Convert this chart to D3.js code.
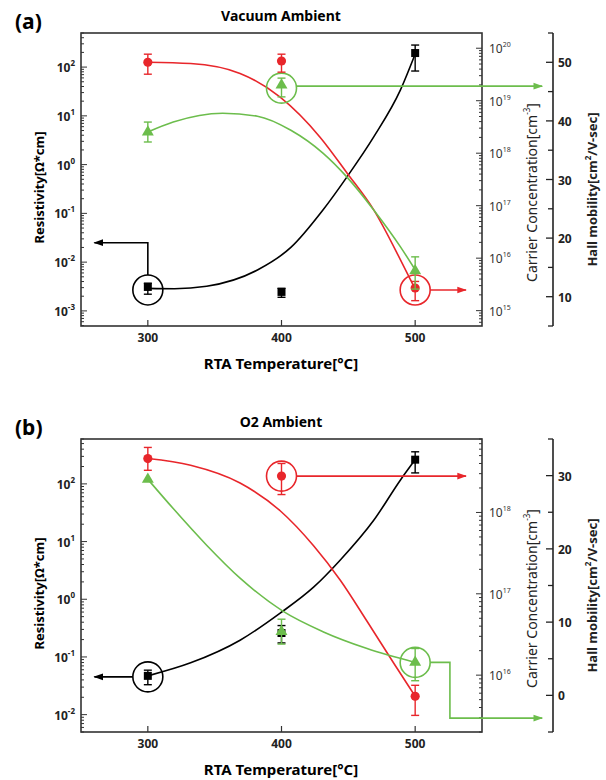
<!DOCTYPE html>
<html>
<head>
<meta charset="utf-8">
<script src="https://cdn.jsdelivr.net/npm/d3@7"></script>
<style>
body{margin:0;background:#fff}
text{font-family:"Noto Sans",sans-serif}
</style>
</head>
<body>
<svg id="chart"></svg>
<script>
var temps = [300, 400, 500]

// (a) vacuum ambient
var vacRes = [3.1e-3, 2.45e-3, 194]
var vacResErr = [[2.2e-3, 3.7e-3], [1.9e-3, 2.9e-3], [83, 283]]
var vacCar = [5.4e19, 5.7e19, 2.7e15]
var vacCarErr = [[3.2e19, 7.7e19], [3.5e19, 7.7e19], [1.55e15, 3.6e15]]
var vacMob = [38.1, 46.1, 14.4]
var vacMobErr = [[36.4, 39.8], [44.1, 47.3], [11.3, 16.8]]
// fitted curves
var vacResFitT = [300, 320, 344, 382, 407, 431, 449, 469, 489, 500]
var vacResFit = [2.9e-3, 2.85e-3, 3.2e-3, 6.9e-3, 0.020, 0.117, 0.56, 3.7, 34, 185]
var vacCarFitT = [300, 332, 369, 399, 429, 449, 469, 489, 499]
var vacCarFit = [5.4e19, 5.1e19, 3.3e19, 1.17e19, 2.0e18, 4.2e17, 8.3e16, 9.3e15, 2.9e15]
var vacMobFitT = [300, 319, 356, 382, 407, 431, 449, 469, 489, 500]
var vacMobFit = [38.1, 39.8, 41.3, 40.8, 38.4, 34.5, 30.4, 24.8, 18.5, 14.6]

// (b) O2 ambient
var o2Res = [0.047, 0.26, 263]
var o2ResErr = [[0.033, 0.059], [0.175, 0.35], [155, 360]]
var o2Car = [4.6e18, 2.8e18, 5.5e15]
var o2CarErr = [[3.3e18, 6.3e18], [1.66e18, 4.0e18], [3.2e15, 7.5e15]]
var o2Mob = [29.5, 8.7, 4.5]
var o2MobErr = [[29.5, 29.5], [7.0, 10.4], [2.0, 6.4]]
var o2ResFitT = [300, 332, 369, 399, 424, 444, 469, 489, 500]
var o2ResFit = [0.047, 0.079, 0.195, 0.575, 1.62, 4.8, 23.4, 117, 263]
var o2CarFitT = [300, 332, 369, 399, 424, 444, 464, 484, 500]
var o2CarFit = [4.6e18, 3.8e18, 2.3e18, 1.05e18, 3.9e17, 1.47e17, 4.6e16, 1.4e16, 5.5e15]
var o2MobFitT = [300, 319, 344, 369, 401, 431, 464, 500]
var o2MobFit = [29.5, 25.5, 20.5, 16.0, 11.5, 8.7, 6.4, 4.5]

var xTicks = [300, 400, 500]

var RED = "#e8262b", GREEN = "#6cbd4c", BLACK = "#000"

var svg = d3.select("#chart").attr("width", 606).attr("height", 780)

// arrow heads
var defs = svg.append("defs")
;[["black", BLACK], ["red", RED], ["green", GREEN]].forEach(function(c){
    defs.append("marker").attr("id", "arr-" + c[0])
        .attr("viewBox", "0 0 10 10").attr("refX", 9).attr("refY", 5)
        .attr("markerWidth", 9).attr("markerHeight", 6).attr("markerUnits", "strokeWidth")
        .attr("orient", "auto")
        .append("path").attr("d", "M0,1.5L10,5L0,8.5Z").attr("fill", c[1])
})

var sup = function(sel, base, exp, supSize){
    sel.append("tspan").text(base)
    sel.append("tspan").text(exp).attr("font-size", supSize).attr("dy", -6)
}

var logTicks = function(scale){
    var d = scale.domain(), out = []
    for (var e = Math.floor(Math.log10(d[0])); e <= Math.ceil(Math.log10(d[1])); e++){
        for (var k = 1; k < 10; k++){
            var v = k * Math.pow(10, e)
            if (v >= d[0] && v <= d[1]) out.push({v: v, major: k == 1, e: e})
        }
    }
    return out
}

var drawPanel = function(p){
    var x = d3.scaleLinear().domain([250, 550]).range([81, 482])
    var yR = d3.scaleLog().domain(p.resDomain).range([p.bottom, p.top])
    var yC = d3.scaleLog().domain(p.carDomain).range([p.bottom, p.top])
    var yM = d3.scaleLinear().domain(p.mobDomain).range([p.bottom, p.top])
    var hallX = 553
    var g = svg.append("g")

    // frame
    g.append("rect").attr("x", 81).attr("y", p.top).attr("width", 401).attr("height", p.bottom - p.top)
        .attr("fill", "none").attr("stroke", "#333").attr("stroke-width", 1.6)

    // left log axis (ticks inward)
    logTicks(yR).forEach(function(t){
        g.append("line").attr("x1", 81).attr("x2", 81 + (t.major ? 6 : 3))
            .attr("y1", yR(t.v)).attr("y2", yR(t.v)).attr("stroke", "#333").attr("stroke-width", 1)
        if (t.major){
            var tx = g.append("text").attr("x", 75).attr("y", yR(t.v) + 5)
                .attr("text-anchor", "end").attr("font-size", 12).attr("font-weight", "bold").attr("fill", "#222")
            sup(tx, "10", t.e, 8)
        }
    })
    // right carrier axis
    logTicks(yC).forEach(function(t){
        g.append("line").attr("x1", 482).attr("x2", 482 - (t.major ? 6 : 3))
            .attr("y1", yC(t.v)).attr("y2", yC(t.v)).attr("stroke", "#333").attr("stroke-width", 1)
        if (t.major){
            var tx = g.append("text").attr("x", 489).attr("y", yC(t.v) + 5)
                .attr("font-size", 12).attr("fill", "#333")
            sup(tx, "10", t.e, 7)
        }
    })
    // hall mobility axis
    g.append("line").attr("x1", hallX).attr("x2", hallX).attr("y1", p.top).attr("y2", p.bottom)
        .attr("stroke", "#222").attr("stroke-width", 1.6)
    d3.range(p.mobDomain[0], p.mobDomain[1] + 0.1, 5).forEach(function(v){
        var major = v % 10 == 0
        g.append("line").attr("x1", hallX).attr("x2", hallX - (major ? 7 : 5))
            .attr("y1", yM(v)).attr("y2", yM(v)).attr("stroke", "#222").attr("stroke-width", 1.3)
        if (major && v > p.mobDomain[0] && v < p.mobDomain[1])
            g.append("text").attr("x", hallX + 5).attr("y", yM(v) + 5).text(v)
                .attr("font-size", 12).attr("font-weight", "bold").attr("fill", "#222")
    })
    // x axis
    xTicks.forEach(function(v){
        g.append("line").attr("x1", x(v)).attr("x2", x(v)).attr("y1", p.bottom).attr("y2", p.bottom - 6)
            .attr("stroke", "#333").attr("stroke-width", 1.2)
        g.append("text").attr("x", x(v)).attr("y", p.bottom + 16).attr("text-anchor", "middle")
            .attr("font-size", 12).attr("font-weight", "bold").attr("fill", "#222").text(v)
    })

    // labels
    g.append("text").attr("x", 15).attr("y", p.top - 4).text(p.tag)
        .attr("font-size", 21).attr("font-weight", "bold")
    g.append("text").attr("x", 281).attr("y", p.top - 12).attr("text-anchor", "middle").text(p.title)
        .attr("font-size", 14).attr("font-weight", "bold")
    g.append("text").attr("x", 281).attr("y", p.bottom + 43).attr("text-anchor", "middle")
        .attr("font-size", 15).attr("font-weight", "bold").text("RTA Temperature[°C]")
    var mid = (p.top + p.bottom) / 2 + 8
    g.append("text").attr("transform", "translate(44," + mid + ") rotate(-90)").attr("text-anchor", "middle")
        .attr("font-size", 13).attr("font-weight", "bold").text("Resistivity[Ω*cm]")
    var cl = g.append("text").attr("transform", "translate(537," + (mid + 5) + ") rotate(-90)").attr("text-anchor", "middle")
        .attr("font-size", 14).attr("fill", "#222")
    cl.append("tspan").text("Carrier Concentration[cm")
    cl.append("tspan").text("-3").attr("font-size", 8).attr("dy", -7)
    cl.append("tspan").text("]").attr("dy", 7)
    var hl = g.append("text").attr("transform", "translate(597," + (mid + 2) + ") rotate(-90)").attr("text-anchor", "middle")
        .attr("font-size", 13).attr("font-weight", "bold").attr("fill", "#222")
    hl.append("tspan").text("Hall mobility[cm")
    hl.append("tspan").text("2").attr("font-size", 8).attr("dy", -6)
    hl.append("tspan").text("/V-sec]").attr("dy", 6)

    var series = [
        {y: yR, vals: p.res, err: p.resErr, fitT: p.resFitT, fit: p.resFit, color: BLACK, shape: d3.symbolSquare, size: 64},
        {y: yC, vals: p.car, err: p.carErr, fitT: p.carFitT, fit: p.carFit, color: RED, shape: d3.symbolCircle, size: 66},
        {y: yM, vals: p.mob, err: p.mobErr, fitT: p.mobFitT, fit: p.mobFit, color: GREEN, shape: d3.symbolTriangle, size: 62}
    ]
    var line = d3.line().curve(d3.curveMonotoneX)
    series.forEach(function(s){
        g.append("path").datum(s.fitT.map(function(t, i){ return [x(t), s.y(s.fit[i])] }))
            .attr("d", line).attr("fill", "none").attr("stroke", s.color).attr("stroke-width", 1.6)
    })
    // annotations
    p.notes(g, x, yR, yC, yM)
    series.forEach(function(s){
        temps.forEach(function(t, i){
            var lo = s.y(s.err[i][0]), hi = s.y(s.err[i][1])
            if (Math.abs(lo - hi) > 1){
                g.append("line").attr("x1", x(t)).attr("x2", x(t)).attr("y1", lo).attr("y2", hi)
                    .attr("stroke", s.color).attr("stroke-width", 1.4)
                ;[lo, hi].forEach(function(yy){
                    g.append("line").attr("x1", x(t) - 4).attr("x2", x(t) + 4).attr("y1", yy).attr("y2", yy)
                        .attr("stroke", s.color).attr("stroke-width", 1.4)
                })
            }
            g.append("path").attr("d", d3.symbol().type(s.shape).size(s.size)())
                .attr("transform", "translate(" + x(t) + "," + s.y(s.vals[i]) + ")").attr("fill", s.color)
        })
    })
}

var ring = function(g, cx, cy, color){
    g.append("circle").attr("cx", cx).attr("cy", cy).attr("r", 15)
        .attr("fill", "none").attr("stroke", color).attr("stroke-width", 1.6)
}
var arrow = function(g, pts, name, color){
    g.append("path").attr("d", d3.line()(pts)).attr("fill", "none")
        .attr("stroke", color).attr("stroke-width", 1.6).attr("marker-end", "url(#arr-" + name + ")")
}

drawPanel({
    top: 33, bottom: 326, tag: "(a)", title: "Vacuum Ambient",
    resDomain: [4.9e-4, 500], carDomain: [5.1e14, 1.95e20], mobDomain: [5, 55],
    res: vacRes, resErr: vacResErr, resFitT: vacResFitT, resFit: vacResFit,
    car: vacCar, carErr: vacCarErr, carFitT: vacCarFitT, carFit: vacCarFit,
    mob: vacMob, mobErr: vacMobErr, mobFitT: vacMobFitT, mobFit: vacMobFit,
    notes: function(g, x, yR, yC, yM){
        var cy = yR(vacRes[0]) + 3
        ring(g, x(300), cy, BLACK)
        arrow(g, [[x(300), cy - 15], [x(300), yR(0.025)], [x(260), yR(0.025)]], "black", BLACK)
        var ry = yC(vacCar[2]) + 2
        ring(g, x(500), ry, RED)
        arrow(g, [[x(500) + 15, ry], [x(538), ry]], "red", RED)
        var gy = yM(vacMob[1]) + 3
        ring(g, x(400), gy, GREEN)
        arrow(g, [[x(400) + 15, gy - 2], [x(595), gy - 2]], "green", GREEN)
    }
})

drawPanel({
    top: 439, bottom: 732, tag: "(b)", title: "O2 Ambient",
    resDomain: [5e-3, 600], carDomain: [2e15, 8e18], mobDomain: [-5, 35],
    res: o2Res, resErr: o2ResErr, resFitT: o2ResFitT, resFit: o2ResFit,
    car: o2Car, carErr: o2CarErr, carFitT: o2CarFitT, carFit: o2CarFit,
    mob: o2Mob, mobErr: o2MobErr, mobFitT: o2MobFitT, mobFit: o2MobFit,
    notes: function(g, x, yR, yC, yM){
        var cy = yR(o2Res[0]) + 1
        ring(g, x(300), cy, BLACK)
        arrow(g, [[x(300) - 15, cy], [x(260), cy]], "black", BLACK)
        var ry = yC(o2Car[1])
        ring(g, x(400), ry, RED)
        arrow(g, [[x(400) + 15, ry], [x(538), ry]], "red", RED)
        var gy = yM(o2Mob[2])
        ring(g, x(500), gy, GREEN)
        arrow(g, [[x(500) + 15, gy], [x(526), gy], [x(526), yM(-3.1)], [x(595), yM(-3.1)]], "green", GREEN)
    }
})
</script>
</body>
</html>
